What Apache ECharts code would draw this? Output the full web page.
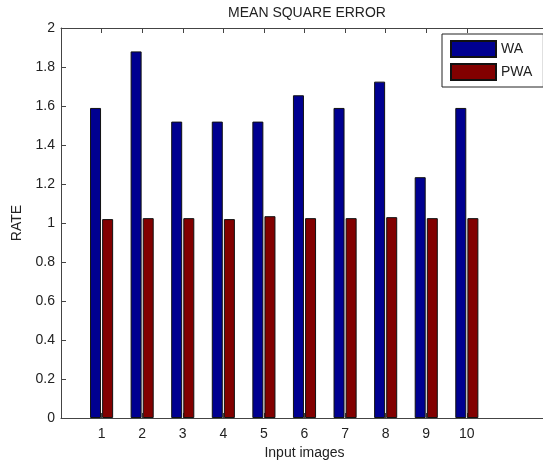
<!DOCTYPE html>
<html>
<head>
<meta charset="utf-8">
<script src="https://cdn.jsdelivr.net/npm/echarts@6/dist/echarts.min.js"></script>
<style>
html,body{margin:0;padding:0;background:#fff;}
#chart{width:543px;height:461px;}
</style>
</head>
<body>
<div id="chart"></div>
<script>
// Data
var categories = ['1', '2', '3', '4', '5', '6', '7', '8', '9', '10'];
var waValues = [1.59, 1.88, 1.52, 1.52, 1.52, 1.655, 1.59, 1.725, 1.235, 1.59];
var pwaValues = [1.02, 1.025, 1.025, 1.02, 1.035, 1.025, 1.025, 1.03, 1.025, 1.025];
var yTicks = [0, 0.2, 0.4, 0.6, 0.8, 1, 1.2, 1.4, 1.6, 1.8, 2];

// x range runs 0..12 like the original axes; pad categories accordingly
var axisCats = [''].concat(categories, ['', '']);
function pad(arr) { return ['-'].concat(arr, ['-', '-']); }

var textColor = '#222';
var lineColor = '#444';
var font = 'Liberation Sans, Arial, sans-serif';

var chart = echarts.init(document.getElementById('chart'), null, {renderer: 'canvas'});
chart.setOption({
  backgroundColor: '#fff',
  animation: false,
  title: {
    text: 'MEAN SQUARE ERROR',
    left: 302,
    top: 1,
    textAlign: 'center',
    textStyle: {fontFamily: font, fontSize: 14, fontWeight: 'normal', color: textColor}
  },
  legend: {
    orient: 'vertical',
    left: 442,
    top: 34,
    padding: [6, 11, 6, 8],
    itemWidth: 45,
    itemHeight: 16,
    itemGap: 5,
    icon: 'rect',
    borderColor: '#222',
    borderWidth: 1,
    backgroundColor: '#fff',
    textStyle: {fontFamily: font, fontSize: 14, color: textColor},
    data: ['WA', 'PWA']
  },
  grid: {left: 61, top: 28, right: -5, bottom: 43, containLabel: false, outerBoundsMode: 'none'},
  xAxis: [{
    type: 'category',
    data: axisCats,
    boundaryGap: false,
    position: 'bottom',
    name: 'Input images',
    nameLocation: 'middle',
    nameGap: 27,
    nameTextStyle: {fontFamily: font, fontSize: 14, color: textColor},
    axisLine: {show: true, lineStyle: {color: lineColor, width: 1}},
    axisTick: {show: true, inside: true, length: 5, lineStyle: {color: lineColor},
      interval: function (i, v) { return v !== ''; }},
    axisLabel: {interval: 0, margin: 9, fontFamily: font, fontSize: 14, color: textColor},
    splitLine: {show: false}
  }, {
    type: 'category',
    data: axisCats,
    boundaryGap: false,
    position: 'top',
    axisLine: {show: true, lineStyle: {color: lineColor, width: 1}},
    axisTick: {show: true, inside: true, length: 5, lineStyle: {color: lineColor},
      interval: function (i, v) { return v !== ''; }},
    axisLabel: {show: false},
    splitLine: {show: false}
  }],
  yAxis: {
    type: 'value',
    min: yTicks[0],
    max: yTicks[yTicks.length - 1],
    interval: 0.2,
    name: 'RATE',
    nameLocation: 'middle',
    nameGap: 34,
    nameTextStyle: {fontFamily: font, fontSize: 14, color: textColor},
    axisLine: {show: true, lineStyle: {color: lineColor, width: 1}},
    axisTick: {show: true, inside: true, length: 5, lineStyle: {color: lineColor}},
    axisLabel: {margin: 6, fontFamily: font, fontSize: 14, color: textColor},
    splitLine: {show: false}
  },
  series: [{
    name: 'WA',
    type: 'bar',
    xAxisIndex: 0,
    data: pad(waValues),
    barWidth: 11,
    barGap: '10%',
    itemStyle: {color: '#000090', borderColor: '#111', borderWidth: 1}
  }, {
    name: 'PWA',
    type: 'bar',
    xAxisIndex: 0,
    data: pad(pwaValues),
    barWidth: 11,
    itemStyle: {color: '#820000', borderColor: '#111', borderWidth: 1}
  }]
});
</script>
</body>
</html>
